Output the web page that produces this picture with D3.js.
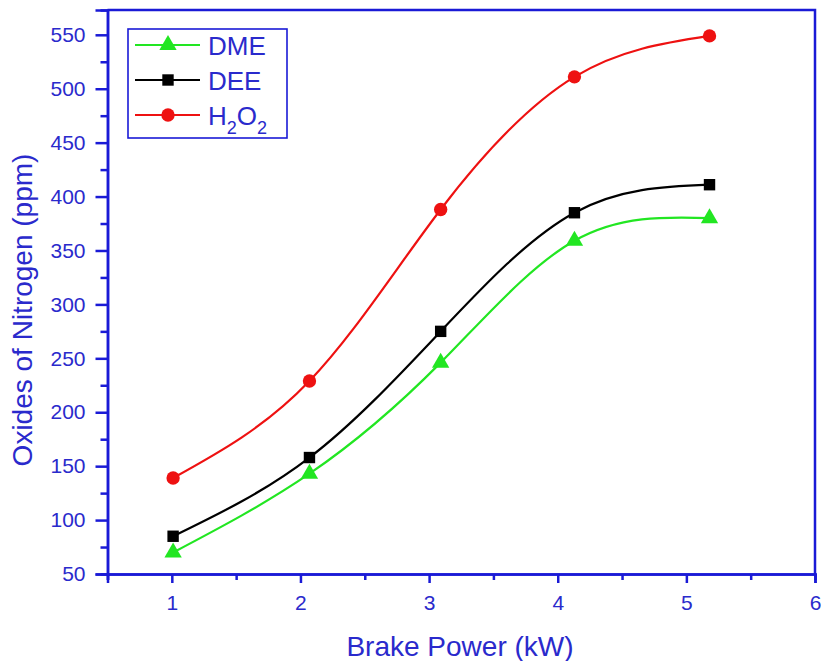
<!DOCTYPE html>
<html>
<head>
<meta charset="utf-8">
<script src="https://cdn.jsdelivr.net/npm/d3@7"></script>
<style>
  html, body { margin: 0; padding: 0; background: #fff; }
  svg { display: block; font-family: "Liberation Sans", Arial, sans-serif; }
</style>
</head>
<body>
<svg id="chart" width="821" height="661"></svg>
<script>
// ---- data ----
const brakePower = [1.01, 2.07, 3.09, 4.13, 5.18];
const dme  = [70, 143, 246, 359, 380];
const dee  = [85, 158, 275, 385, 411];
const h2o2 = [139, 229, 388, 511, 549];
const seriesNames = ["DME", "DEE", "H2O2"];
const xTicks = [1, 2, 3, 4, 5, 6];
const yTicks = [50, 100, 150, 200, 250, 300, 350, 400, 450, 500, 550];

// ---- style ----
const axisColor = "#1a1ad6";
const textColor = "#2a2acc";
const colors = { DME: "#22e622", DEE: "#000000", H2O2: "#ee1111" };

const svg = d3.select("#chart");
const mLeft = 107.5, mRight = 815, mTop = 10, mBottom = 574;

const x = d3.scaleLinear().domain([0.5, 6]).range([mLeft, mRight]);
const y = d3.scaleLinear().domain([50, 573]).range([mBottom, mTop]);

// frame (top and right lines)
svg.append("path")
  .attr("d", `M${mLeft},${mTop}H${mRight}V${mBottom}`)
  .attr("fill", "none").attr("stroke", axisColor).attr("stroke-width", 2.5);

// minor ticks
const xMinor = d3.axisBottom(x).tickValues([0.5, 1.5, 2.5, 3.5, 4.5, 5.5]).tickSize(6).tickFormat("");
const yMinor = d3.axisLeft(y).tickValues([75, 125, 175, 225, 275, 325, 375, 425, 475, 525]).tickSize(7).tickFormat("");
svg.append("g").attr("transform", `translate(0,${mBottom})`).call(xMinor).attr("class", "ax");
svg.append("g").attr("transform", `translate(${mLeft},0)`).call(yMinor).attr("class", "ax");

// major axes
const xAxis = d3.axisBottom(x).tickValues(xTicks).tickSize(9).tickPadding(12).tickFormat(d3.format("d"));
const yAxis = d3.axisLeft(y).tickValues(yTicks).tickSize(12).tickPadding(10).tickFormat(d3.format("d"));
svg.append("g").attr("transform", `translate(0,${mBottom})`).call(xAxis).attr("class", "ax");
svg.append("g").attr("transform", `translate(${mLeft},0)`).call(yAxis).attr("class", "ax");

svg.selectAll(".ax .domain").attr("stroke", axisColor).attr("stroke-width", 2.5);
svg.selectAll(".ax .tick line").attr("stroke", axisColor).attr("stroke-width", 2.5);
svg.selectAll(".ax .tick text").attr("fill", textColor).attr("font-size", 21)
  .attr("font-family", "'Liberation Sans', Arial, sans-serif");

// axis titles
svg.append("text")
  .attr("x", 460).attr("y", 656)
  .attr("text-anchor", "middle").attr("font-size", 28).attr("fill", textColor)
  .text("Brake Power (kW)");
svg.append("text")
  .attr("transform", "translate(32,310) rotate(-90)")
  .attr("text-anchor", "middle").attr("font-size", 28).attr("fill", textColor)
  .text("Oxides of Nitrogen (ppm)");

// series
const data = {
  DME: brakePower.map((b, i) => [b, dme[i]]),
  DEE: brakePower.map((b, i) => [b, dee[i]]),
  H2O2: brakePower.map((b, i) => [b, h2o2[i]])
};
const line = d3.line().x(d => x(d[0])).y(d => y(d[1])).curve(d3.curveNatural);
const symbols = { DME: d3.symbolTriangle, DEE: d3.symbolSquare, H2O2: d3.symbolCircle };
const sizes = { DME: 130, DEE: 130, H2O2: 140 };

seriesNames.forEach(name => {
  svg.append("path").datum(data[name])
    .attr("d", line).attr("fill", "none")
    .attr("stroke", colors[name]).attr("stroke-width", 2.2);
});
seriesNames.forEach(name => {
  svg.append("g").selectAll("path").data(data[name]).join("path")
    .attr("transform", d => `translate(${x(d[0])},${y(d[1])})`)
    .attr("d", d3.symbol().type(symbols[name]).size(sizes[name]))
    .attr("fill", colors[name]);
});

// legend
const lg = svg.append("g");
lg.append("rect").attr("x", 128).attr("y", 29).attr("width", 159).attr("height", 109)
  .attr("fill", "#fff").attr("stroke", axisColor).attr("stroke-width", 1.6);
seriesNames.forEach((name, i) => {
  const cy = 45 + i * 35;
  lg.append("line").attr("x1", 135).attr("x2", 200).attr("y1", cy).attr("y2", cy)
    .attr("stroke", colors[name]).attr("stroke-width", 2.2);
  lg.append("path").attr("transform", `translate(168,${cy})`)
    .attr("d", d3.symbol().type(symbols[name]).size(sizes[name]))
    .attr("fill", colors[name]);
  const t = lg.append("text").attr("x", 208).attr("y", cy + 9.5)
    .attr("font-size", 26).attr("fill", textColor);
  if (name === "H2O2") {
    t.append("tspan").text("H");
    t.append("tspan").attr("font-size", 18).attr("dy", 9).text("2");
    t.append("tspan").attr("dy", -9).text("O");
    t.append("tspan").attr("font-size", 18).attr("dy", 9).text("2");
  } else {
    t.text(name);
  }
});
</script>
</body>
</html>
